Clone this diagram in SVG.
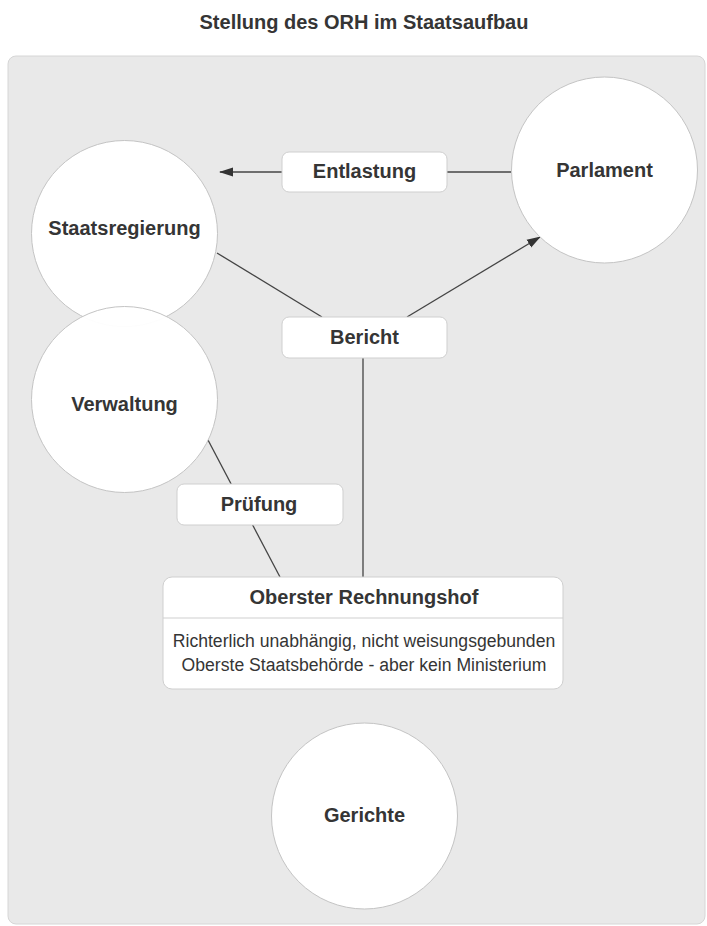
<svg xmlns="http://www.w3.org/2000/svg" width="707" height="926" viewBox="0 0 707 926">
<defs>
<style>
text{font-family:"Liberation Sans",Arial,sans-serif;fill:#353535;}
.b{font-weight:bold;font-size:20px;}
.r{font-size:17.6px;}
.circ{fill:#fff;fill-opacity:0.96;stroke:#c4c4c4;stroke-width:1;}
.box{fill:#fff;stroke:#cfcfcf;stroke-width:1;}
.ln{stroke:#444;stroke-width:1.3;fill:none;}
</style>
<marker id="ah" markerWidth="14" markerHeight="10" refX="13" refY="5" orient="auto" markerUnits="userSpaceOnUse">
<path d="M0,0.5 L14,5 L0,9.5 Z" fill="#333"/>
</marker>
</defs>
<rect width="707" height="926" fill="#fff"/>
<text class="b" x="364" y="29" text-anchor="middle">Stellung des ORH im Staatsaufbau</text>
<rect x="8" y="56" width="697" height="868" rx="8" fill="#e9e9e9" stroke="#d6d6d6" stroke-width="1"/>
<g id="connectors">
<line class="ln" x1="282" y1="172" x2="220" y2="172" marker-end="url(#ah)"/>
<line class="ln" x1="511" y1="172" x2="447" y2="172"/>
<line class="ln" x1="217" y1="253" x2="322" y2="317"/>
<line class="ln" x1="407" y1="317" x2="540" y2="237" marker-end="url(#ah)"/>
<line class="ln" x1="363" y1="358" x2="363" y2="577"/>
<line class="ln" x1="208" y1="440" x2="280" y2="577"/>
</g>
<g id="staatsregierung">
<circle class="circ" cx="124.5" cy="233.5" r="93"/>
<text class="b" x="124.5" y="235" text-anchor="middle">Staatsregierung</text>
</g>
<g id="verwaltung">
<circle class="circ" cx="124.5" cy="399.5" r="93"/>
<text class="b" x="124.5" y="411" text-anchor="middle">Verwaltung</text>
</g>
<g id="parlament">
<circle class="circ" cx="604.5" cy="170" r="93"/>
<text class="b" x="604.5" y="177" text-anchor="middle">Parlament</text>
</g>
<g id="gerichte">
<circle class="circ" cx="364.5" cy="816" r="93"/>
<text class="b" x="364.5" y="822" text-anchor="middle">Gerichte</text>
</g>
<g id="entlastung">
<rect class="box" x="282" y="152" width="165" height="40" rx="7"/>
<text class="b" x="364.5" y="178" text-anchor="middle">Entlastung</text>
</g>
<g id="bericht">
<rect class="box" x="282" y="317" width="165" height="41" rx="7"/>
<text class="b" x="364.5" y="344" text-anchor="middle">Bericht</text>
</g>
<g id="pruefung">
<rect class="box" x="177" y="484" width="166" height="41" rx="7"/>
<text class="b" x="259" y="511" text-anchor="middle">Prüfung</text>
</g>
<g id="orh">
<rect class="box" x="163" y="577" width="400" height="112" rx="9"/>
<line x1="163" y1="618" x2="563" y2="618" stroke="#cfcfcf" stroke-width="1"/>
<text class="b" x="364" y="604" text-anchor="middle">Oberster Rechnungshof</text>
<text class="r" x="364" y="647" text-anchor="middle">Richterlich unabhängig, nicht weisungsgebunden</text>
<text class="r" x="364" y="671" text-anchor="middle">Oberste Staatsbehörde - aber kein Ministerium</text>
</g>
</svg>
